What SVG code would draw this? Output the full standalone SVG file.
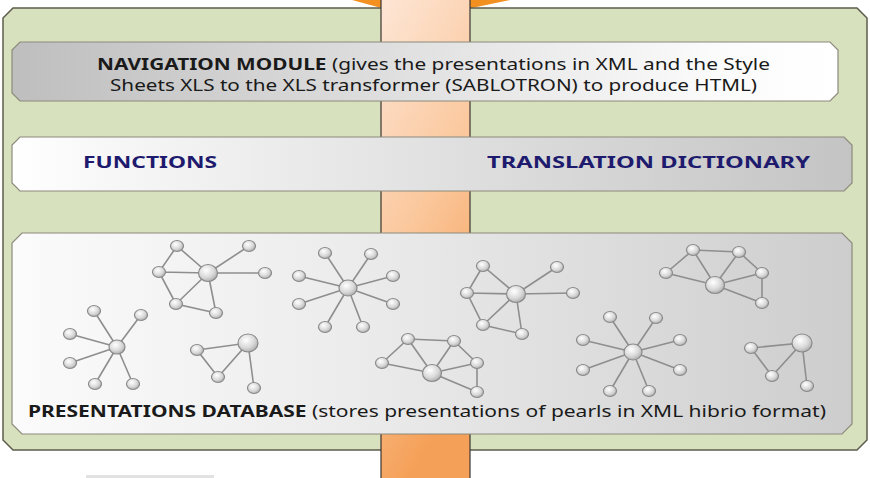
<svg xmlns="http://www.w3.org/2000/svg" width="870" height="478" viewBox="0 0 870 478">
  <defs>
    <linearGradient id="barGrad" x1="0" y1="0" x2="0.3" y2="1">
      <stop offset="0" stop-color="#fde6d6"/>
      <stop offset="0.5" stop-color="#fbc99f"/>
      <stop offset="1" stop-color="#f5a058"/>
    </linearGradient>
    <linearGradient id="navGrad" x1="0" y1="0" x2="1" y2="0">
      <stop offset="0" stop-color="#bebebe"/>
      <stop offset="0.85" stop-color="#fbfbfb"/>
      <stop offset="1" stop-color="#ffffff"/>
    </linearGradient>
    <linearGradient id="funcGrad" x1="0" y1="0" x2="1" y2="0">
      <stop offset="0" stop-color="#ffffff"/>
      <stop offset="0.1" stop-color="#f8f8f8"/>
      <stop offset="1" stop-color="#c4c4c4"/>
    </linearGradient>
    <linearGradient id="dbGrad" x1="0" y1="0" x2="1" y2="0">
      <stop offset="0" stop-color="#fbfbfb"/>
      <stop offset="0.4" stop-color="#ececec"/>
      <stop offset="1" stop-color="#cdcdcd"/>
    </linearGradient>
    <radialGradient id="pearl" cx="0.4" cy="0.35" r="0.7">
      <stop offset="0" stop-color="#ffffff"/>
      <stop offset="0.6" stop-color="#d8d8d8"/>
      <stop offset="1" stop-color="#a8a8a8"/>
    </radialGradient>
  </defs>
  <style>
    .panel { fill: #d8e1bd; stroke: #5e5c4c; stroke-width: 1.5; }
    .box { stroke: #8c8a7c; stroke-width: 1.2; }
    .bar { fill: url(#barGrad); stroke: #3c3630; stroke-width: 1.2; }
    .lbl { font-family: "Noto Sans", "Liberation Sans", sans-serif; font-size: 16px; fill: #1a1a1a; }
    .blue { fill: #1e1b6e; font-weight: bold; }
    .b { font-weight: bold; }
    .edge { stroke: #8e8e8e; stroke-width: 1.6; fill: none; }
    .n { fill: url(#pearl); stroke: #8a8a8a; stroke-width: 1.2; }
  </style>

  <rect width="870" height="478" fill="#ffffff"/>

  <!-- arrow tip entering from above -->
  <polygon points="352,0 385,0 385,9" fill="#f39022"/>
  <polygon points="467,0 510,0 467,9" fill="#f39022"/>

  <!-- green container -->
  <path class="panel" d="M13,8 H857 L867,18 V440 L857,450 H13 L3,440 V18 Z"/>

  <!-- orange vertical channel -->
  <rect class="bar" x="381" y="-2" width="89" height="482"/>

  <!-- navigation module -->
  <g id="navigation-module">
    <path class="box" fill="url(#navGrad)" d="M20,42 H830 L838,50 V93 L830,101 H20 L12,93 V50 Z"/>
    <text class="lbl" x="97" y="70" textLength="673" lengthAdjust="spacingAndGlyphs"><tspan class="b">NAVIGATION MODULE</tspan> (gives the presentations in XML and the Style</text>
    <text class="lbl" x="110" y="91" textLength="647" lengthAdjust="spacingAndGlyphs">Sheets XLS to the XLS transformer (SABLOTRON) to produce HTML)</text>
  </g>

  <!-- functions / dictionary -->
  <g id="functions-layer">
    <path class="box" fill="url(#funcGrad)" d="M20,137 H844 L852,145 V183 L844,191 H20 L12,183 V145 Z"/>
    <text class="lbl blue" x="83" y="168" textLength="134" lengthAdjust="spacingAndGlyphs">FUNCTIONS</text>
    <text class="lbl blue" x="487" y="168" textLength="323" lengthAdjust="spacingAndGlyphs">TRANSLATION DICTIONARY</text>
  </g>

  <!-- presentations database -->
  <g id="presentations-database">
    <path class="box" fill="url(#dbGrad)" d="M22,233 H842 L852,243 V424 L842,434 H22 L12,424 V243 Z"/>
    <text class="lbl" x="28" y="417" textLength="798" lengthAdjust="spacingAndGlyphs"><tspan class="b">PRESENTATIONS DATABASE</tspan> (stores presentations of pearls in XML hibrio format)</text>
  </g>

  <!-- pearl links -->
  <g id="connectors" class="edge">
    <!-- pearl A -->
    <path d="M177,246 L159,272 L176,304 L216,313 M177,246 L208,273 M159,272 L208,273 M176,304 L208,273 M216,313 L208,273 M249,246 L208,273 M265,273 L208,273"/>
    <!-- pearl B -->
    <path d="M325,253 L348,288 M371,254 L348,288 M299,276 L348,288 M393,276 L348,288 M299,304 L348,288 M393,304 L348,288 M325,327 L348,288 M363,327 L348,288"/>
    <!-- pearl C -->
    <path d="M94,311 L117,347 M141,315 L117,347 M70,334 L117,347 M70,363 L117,347 M95,384 L117,347 M133,384 L117,347"/>
    <!-- pearl D -->
    <path d="M197,350 L248,343 L218,377 Z M248,343 L254,388"/>
    <!-- pearl E -->
    <path d="M382,363 L408,339 L454,341 L477,363 L477,392 M408,339 L432,373 M454,341 L432,373 M382,363 L432,373 M477,363 L432,373 M477,392 L432,373"/>
    <!-- pearl F -->
    <path d="M483,266 L467,293 L483,325 L522,334 M483,266 L516,294 M467,293 L516,294 M483,325 L516,294 M522,334 L516,294 M557,267 L516,294 M573,293 L516,294"/>
    <!-- pearl G -->
    <path d="M666,273 L693,250 L739,252 L762,273 L762,303 M693,250 L715,285 M739,252 L715,285 M666,273 L715,285 M762,273 L715,285 M762,303 L715,285"/>
    <!-- pearl H -->
    <path d="M610,317 L633,352 M656,318 L633,352 M583,340 L633,352 M680,340 L633,352 M583,370 L633,352 M680,370 L633,352 M610,391 L633,352 M649,391 L633,352"/>
    <!-- pearl I -->
    <path d="M751,348 L802,343 L772,376 Z M802,343 L807,386"/>
  </g>

  <g id="pearl-a">
    <ellipse class="n" cx="177" cy="246" rx="6.5" ry="5.5"/>
    <ellipse class="n" cx="249" cy="246" rx="6.5" ry="5.5"/>
    <ellipse class="n" cx="159" cy="272" rx="6.5" ry="5.5"/>
    <ellipse class="n" cx="265" cy="273" rx="6.5" ry="5.5"/>
    <ellipse class="n" cx="176" cy="304" rx="6.5" ry="5.5"/>
    <ellipse class="n" cx="216" cy="313" rx="6.5" ry="5.5"/>
    <ellipse class="n" cx="208" cy="273" rx="9.5" ry="8.5"/>
  </g>
  <g id="pearl-b">
    <ellipse class="n" cx="325" cy="253" rx="6.5" ry="5.5"/>
    <ellipse class="n" cx="371" cy="254" rx="6.5" ry="5.5"/>
    <ellipse class="n" cx="299" cy="276" rx="6.5" ry="5.5"/>
    <ellipse class="n" cx="393" cy="276" rx="6.5" ry="5.5"/>
    <ellipse class="n" cx="299" cy="304" rx="6.5" ry="5.5"/>
    <ellipse class="n" cx="393" cy="304" rx="6.5" ry="5.5"/>
    <ellipse class="n" cx="325" cy="327" rx="6.5" ry="5.5"/>
    <ellipse class="n" cx="363" cy="327" rx="6.5" ry="5.5"/>
    <ellipse class="n" cx="348" cy="288" rx="9" ry="8"/>
  </g>
  <g id="pearl-c">
    <ellipse class="n" cx="94" cy="311" rx="6.5" ry="5.5"/>
    <ellipse class="n" cx="141" cy="315" rx="6.5" ry="5.5"/>
    <ellipse class="n" cx="70" cy="334" rx="6.5" ry="5.5"/>
    <ellipse class="n" cx="70" cy="363" rx="6.5" ry="5.5"/>
    <ellipse class="n" cx="95" cy="384" rx="6.5" ry="5.5"/>
    <ellipse class="n" cx="133" cy="384" rx="6.5" ry="5.5"/>
    <ellipse class="n" cx="117" cy="347" rx="8" ry="7"/>
  </g>
  <g id="pearl-d">
    <ellipse class="n" cx="197" cy="350" rx="6.5" ry="5.5"/>
    <ellipse class="n" cx="218" cy="377" rx="6.5" ry="5.5"/>
    <ellipse class="n" cx="254" cy="388" rx="6.5" ry="5.5"/>
    <ellipse class="n" cx="248" cy="343" rx="10" ry="9"/>
  </g>
  <g id="pearl-e">
    <ellipse class="n" cx="408" cy="339" rx="6.5" ry="5.5"/>
    <ellipse class="n" cx="454" cy="341" rx="6.5" ry="5.5"/>
    <ellipse class="n" cx="382" cy="363" rx="6.5" ry="5.5"/>
    <ellipse class="n" cx="477" cy="363" rx="6.5" ry="5.5"/>
    <ellipse class="n" cx="477" cy="392" rx="6.5" ry="5.5"/>
    <ellipse class="n" cx="432" cy="373" rx="9.5" ry="8.5"/>
  </g>
  <g id="pearl-f">
    <ellipse class="n" cx="483" cy="266" rx="6.5" ry="5.5"/>
    <ellipse class="n" cx="557" cy="267" rx="6.5" ry="5.5"/>
    <ellipse class="n" cx="467" cy="293" rx="6.5" ry="5.5"/>
    <ellipse class="n" cx="573" cy="293" rx="6.5" ry="5.5"/>
    <ellipse class="n" cx="483" cy="325" rx="6.5" ry="5.5"/>
    <ellipse class="n" cx="522" cy="334" rx="6.5" ry="5.5"/>
    <ellipse class="n" cx="516" cy="294" rx="9.5" ry="8.5"/>
  </g>
  <g id="pearl-g">
    <ellipse class="n" cx="693" cy="250" rx="6.5" ry="5.5"/>
    <ellipse class="n" cx="739" cy="252" rx="6.5" ry="5.5"/>
    <ellipse class="n" cx="666" cy="273" rx="6.5" ry="5.5"/>
    <ellipse class="n" cx="762" cy="273" rx="6.5" ry="5.5"/>
    <ellipse class="n" cx="762" cy="303" rx="6.5" ry="5.5"/>
    <ellipse class="n" cx="715" cy="285" rx="9.5" ry="8.5"/>
  </g>
  <g id="pearl-h">
    <ellipse class="n" cx="610" cy="317" rx="6.5" ry="5.5"/>
    <ellipse class="n" cx="656" cy="318" rx="6.5" ry="5.5"/>
    <ellipse class="n" cx="583" cy="340" rx="6.5" ry="5.5"/>
    <ellipse class="n" cx="680" cy="340" rx="6.5" ry="5.5"/>
    <ellipse class="n" cx="583" cy="370" rx="6.5" ry="5.5"/>
    <ellipse class="n" cx="680" cy="370" rx="6.5" ry="5.5"/>
    <ellipse class="n" cx="610" cy="391" rx="6.5" ry="5.5"/>
    <ellipse class="n" cx="649" cy="391" rx="6.5" ry="5.5"/>
    <ellipse class="n" cx="633" cy="352" rx="9" ry="8"/>
  </g>
  <g id="pearl-i">
    <ellipse class="n" cx="751" cy="348" rx="6.5" ry="5.5"/>
    <ellipse class="n" cx="772" cy="376" rx="6.5" ry="5.5"/>
    <ellipse class="n" cx="807" cy="386" rx="6.5" ry="5.5"/>
    <ellipse class="n" cx="802" cy="343" rx="10" ry="9"/>
  </g>

  <!-- edge of a shape below the container -->
  <rect x="86" y="475" width="128" height="4" fill="#e2e2e2"/>
</svg>
